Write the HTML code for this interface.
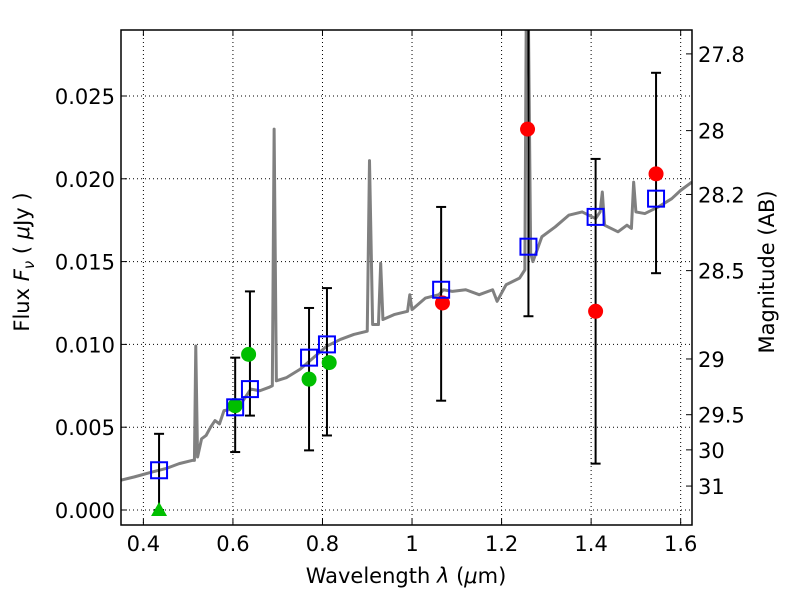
<!DOCTYPE html>
<html><head><meta charset="utf-8"><style>
body{margin:0;background:#fff;width:800px;height:600px;overflow:hidden}
text{font-family:"DejaVu Sans","Liberation Sans",sans-serif;fill:#000}
</style></head><body>
<svg id="c" width="800" height="600"></svg>
<script>
const specLam=[0.35,0.38,0.42,0.45,0.48,0.51,0.514,0.517,0.521,0.53,0.54,0.55,0.56,0.57,0.58,0.60,0.62,0.64,0.66,0.68,0.688,0.692,0.697,0.72,0.75,0.78,0.81,0.84,0.87,0.90,0.905,0.912,0.925,0.93,0.935,0.96,0.99,0.995,1.0,1.03,1.06,1.07,1.09,1.12,1.15,1.18,1.19,1.21,1.24,1.252,1.255,1.26,1.265,1.27,1.29,1.32,1.35,1.38,1.41,1.42,1.425,1.43,1.46,1.48,1.49,1.495,1.50,1.52,1.55,1.58,1.60,1.625];
const specFlux=[0.0018,0.0020,0.0023,0.0025,0.0028,0.0030,0.0030,0.0099,0.0032,0.0043,0.0045,0.0050,0.0054,0.0052,0.0060,0.0061,0.0065,0.0073,0.0072,0.0074,0.0075,0.0230,0.0078,0.0080,0.0085,0.0092,0.0099,0.0103,0.0106,0.0108,0.0211,0.0112,0.0112,0.0149,0.0115,0.0118,0.0120,0.0130,0.0121,0.0128,0.0130,0.0133,0.0132,0.0133,0.0130,0.0133,0.0126,0.0136,0.0140,0.0145,0.0295,0.0295,0.0155,0.0150,0.0165,0.0171,0.0178,0.0180,0.0176,0.0180,0.0192,0.0172,0.0168,0.0172,0.0170,0.0198,0.0180,0.0179,0.0183,0.0188,0.0193,0.0198];
const sqLam=[0.435,0.605,0.638,0.77,0.81,1.065,1.26,1.41,1.545];
const sqFlux=[0.0024,0.0062,0.0073,0.0092,0.0100,0.0133,0.0159,0.0177,0.0188];
const errLo=[0.0,0.0035,0.0057,0.0036,0.0045,0.0066,0.0117,0.0028,0.0143];
const errHi=[0.0046,0.0092,0.0132,0.0122,0.0134,0.0183,0.035,0.0212,0.0264];
const greenLam=[0.605,0.635,0.77,0.815];
const greenFlux=[0.0063,0.0094,0.0079,0.0089];
const triLam=[0.435];const triFlux=[0.0];
const redLam=[1.068,1.258,1.41,1.545];
const redFlux=[0.0125,0.0230,0.0120,0.0203];
const xTicks=[0.4,0.6,0.8,1,1.2,1.4,1.6];
const yTicks=[0,0.005,0.010,0.015,0.020,0.025];
const yLabels=["0.000","0.005","0.010","0.015","0.020","0.025"];
const magTicks=[27.8,28,28.2,28.5,29,29.5,30,31];
const L=121,R=692,T=30,B=525,x0=0.35,x1=1.6253,y0=-0.000906,y1=0.028985;
const X=v=>L+(v-x0)/(x1-x0)*(R-L);
const Y=v=>B-(v-y0)/(y1-y0)*(B-T);
const NS="http://www.w3.org/2000/svg",svg=document.getElementById('c');
function mk(t,a,p){const e=document.createElementNS(NS,t);for(const k in a)e.setAttribute(k,a[k]);(p||svg).appendChild(e);return e;}
const cp=mk('clipPath',{id:'cp'});mk('rect',{x:L,y:T,width:R-L,height:B-T},cp);
const plot=mk('g',{'clip-path':'url(#cp)'});
xTicks.forEach(v=>{const l=mk('line',{x1:X(v),x2:X(v),y1:T,y2:B,stroke:'#000','stroke-dasharray':'1,3','stroke-width':1},plot);
});
yTicks.forEach(v=>{const l=mk('line',{x1:L,x2:R,y1:Y(v),y2:Y(v),stroke:'#000','stroke-dasharray':'1,3','stroke-width':1},plot);
});
const sp=mk('polyline',{points:specLam.map((v,i)=>X(v)+','+Y(specFlux[i])).join(' '),fill:'none',stroke:'#808080','stroke-width':3,'stroke-linejoin':'round'},plot);

sqLam.forEach((v,i)=>{const g=mk('g',{},plot);

const x=X(v);mk('line',{x1:x,x2:x,y1:Y(errLo[i]),y2:Y(errHi[i]),stroke:'#000','stroke-width':2},g);
[errLo[i],errHi[i]].forEach(e=>mk('line',{x1:x-5,x2:x+5,y1:Y(e),y2:Y(e),stroke:'#000','stroke-width':2},g));});
greenLam.forEach((v,i)=>{const c=mk('circle',{cx:X(v),cy:Y(greenFlux[i]),r:7.5,fill:'#00bf00'},plot);
});
redLam.forEach((v,i)=>{const c=mk('circle',{cx:X(v),cy:Y(redFlux[i]),r:7.5,fill:'#ff0000'},plot);
});
triLam.forEach((v,i)=>{const x=X(v),y=Y(triFlux[i]);const p=mk('polygon',{points:`${x},${y-8} ${x-8},${y+6} ${x+8},${y+6}`,fill:'#00bf00'},plot);
});
sqLam.forEach((v,i)=>{const r=mk('rect',{x:X(v)-8,y:Y(sqFlux[i])-8,width:16,height:16,fill:'none',stroke:'#0000ff','stroke-width':2},plot);
});
const fr=mk('rect',{x:L,y:T,width:R-L,height:B-T,fill:'none',stroke:'#000','stroke-width':1.5});

xTicks.forEach(v=>{mk('line',{x1:X(v),x2:X(v),y1:B,y2:B-6,stroke:'#000'});mk('line',{x1:X(v),x2:X(v),y1:T,y2:T+6,stroke:'#000'});
const t=mk('text',{x:X(v),y:B+26,'text-anchor':'middle','font-size':21});t.textContent=String(v);
});
yTicks.forEach((v,i)=>{mk('line',{x1:L,x2:L+6,y1:Y(v),y2:Y(v),stroke:'#000'});
const t=mk('text',{x:L-6,y:Y(v)+8,'text-anchor':'end','font-size':21});t.textContent=yLabels[i];
});
magTicks.forEach(m=>{const f=Math.pow(10,-0.4*(m-23.9));const y=Y(f);
mk('line',{x1:R,x2:R-6,y1:y,y2:y,stroke:'#000'});
const t=mk('text',{x:R+6,y:y+8,'font-size':21});t.textContent=String(m);
});
</script>
<svg width="800" height="600" style="position:absolute;left:0;top:0">
<text x="406" y="583" text-anchor="middle" font-size="21">Wavelength  <tspan font-style="italic">λ</tspan> (<tspan font-style="italic">μ</tspan>m)</text>
<text transform="translate(29,262) rotate(-90)" text-anchor="middle" font-size="21">Flux  <tspan font-style="italic">F</tspan><tspan font-style="italic" font-size="15" dy="5">ν</tspan><tspan dy="-5">  ( </tspan><tspan font-style="italic">μ</tspan>Jy )</text>
<text transform="translate(774,272) rotate(-90)" text-anchor="middle" font-size="21">Magnitude (AB)</text>
</svg>
</body></html>
